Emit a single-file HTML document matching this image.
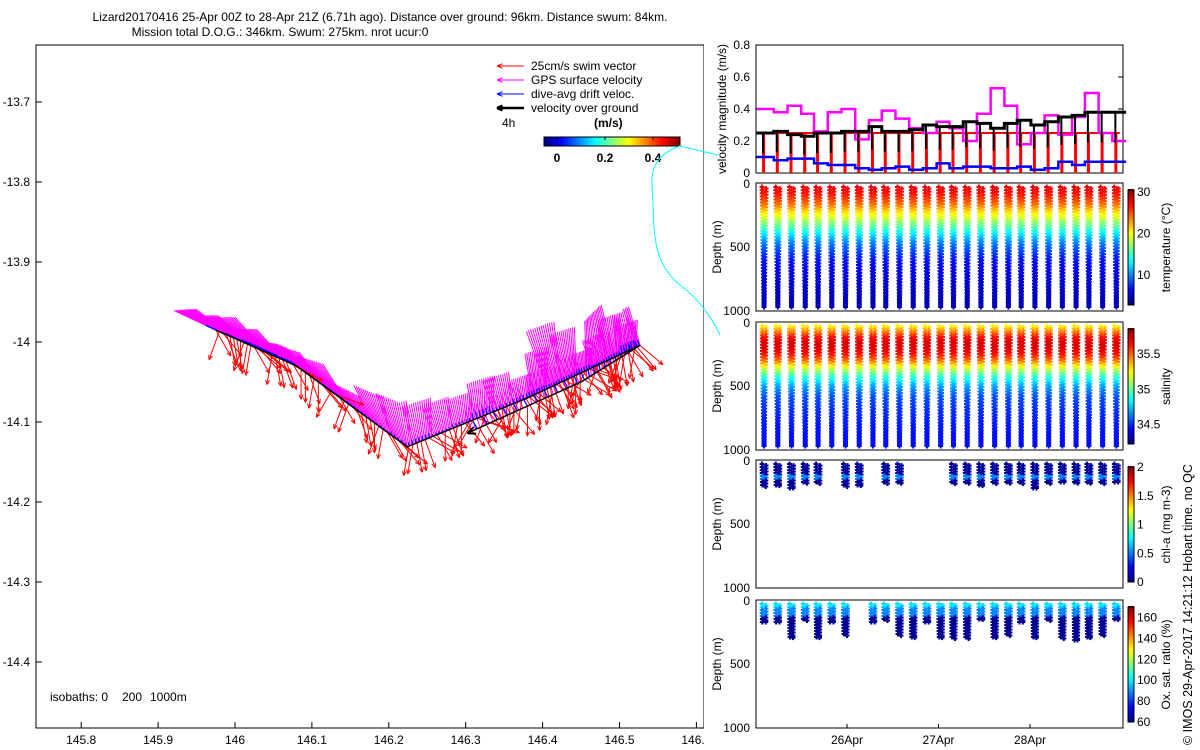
<!DOCTYPE html>
<html><head><meta charset="utf-8"><style>
html,body{margin:0;padding:0;background:#fff}
svg{display:block;font-family:"Liberation Sans",sans-serif;font-size:12px}
</style></head><body>
<svg id="fig" width="1200" height="750" viewBox="0 0 1200 750" xmlns="http://www.w3.org/2000/svg">
<rect width="1200" height="750" fill="#fff"/>
<g id="title">
<text x="380" y="21" text-anchor="middle">Lizard20170416 25-Apr 00Z to 28-Apr 21Z (6.71h ago). Distance over ground: 96km. Distance swum: 84km.</text>
<text x="280" y="36" text-anchor="middle">Mission total D.O.G.: 346km. Swum: 275km. nrot ucur:0</text>
</g>
<g id="map"></g>
<rect x="704" y="40" width="496" height="710" fill="#fff"/>
<path d="M718,155 L680,146 C662,152 650,165 652,185 C655,230 650,260 680,285 C700,300 712,318 720,335" fill="none" stroke="#0ff" stroke-width="1"/>
<g id="panels"></g>
<text transform="translate(1192,745) rotate(-90)" font-size="12.5">© IMOS 29-Apr-2017 14:21:12 Hobart time. no QC</text>
</svg>
<script>
// ---------- data ----------
const mapLonTicks=[145.8,145.9,146,146.1,146.2,146.3,146.4,146.5,146.6];
const mapLatTicks=[-13.7,-13.8,-13.9,-14,-14.1,-14.2,-14.3,-14.4];
const trackLon=[145.975,146.08,146.224,146.38,146.527,146.45,146.302];
const trackLat=[-13.985,-14.03,-14.131,-14.07,-14.004,-14.05,-14.114];
const trackT=[0,0.17,0.36,0.58,0.86,0.93,1.0];
const diveTimes=[0.05,0.20,0.35,0.50,0.64,0.79,0.94,1.09,1.24,1.38,1.53,1.68,1.83,1.98,2.12,2.27,2.42,2.57,2.72,2.86,3.01,3.16,3.31,3.46,3.60,3.75,3.90];
const gpsSpeed=[0.40,0.38,0.42,0.37,0.26,0.38,0.40,0.21,0.33,0.39,0.34,0.28,0.25,0.32,0.28,0.20,0.37,0.53,0.42,0.18,0.25,0.36,0.24,0.35,0.50,0.25,0.20];
const vogSpeed=[0.25,0.26,0.24,0.23,0.25,0.25,0.26,0.26,0.29,0.26,0.26,0.27,0.30,0.29,0.29,0.32,0.31,0.28,0.31,0.33,0.30,0.32,0.35,0.36,0.38,0.38,0.38];
const driftSpeed=[0.10,0.08,0.09,0.09,0.06,0.05,0.05,0.03,0.02,0.03,0.04,0.02,0.03,0.06,0.03,0.04,0.04,0.03,0.03,0.04,0.02,0.03,0.07,0.05,0.07,0.07,0.07];
const swimSpeed=[0.25];
const gpsDir=[155,150,145,145,140,140,135,125,115,110,105,110,105,100,110,105,100,110,105,100,110,105,100,110,105,115,120];
const swimDir=[-60,-80,-100,-40,-70,-90,-50,-110,-80,-60,-100,-30,-70,-120,-50,-90,-40,-80,-60,-100,-20,-70,-110,-50,-80,-30,-90];
const depthLevels=[0,50,100,150,200,250,300,350,400,450,500,600,700,800,900,1000];
const tempProfile=[27.5,27,25.5,24,21.5,19.5,17,15,12.5,10.5,9,7,5.8,5,4.6,4.3];
const salProfile=[35.25,35.45,35.65,35.72,35.7,35.6,35.45,35.2,35.0,34.85,34.7,34.55,34.5,34.47,34.45,34.44];
const chlMaxDepth=[190,180,200,160,170,0,190,180,0,170,160,0,0,0,170,160,180,170,160,170,200,170,150,160,160,170,150];
const oxMaxDepth=[150,150,280,140,280,150,270,0,150,140,270,280,150,280,290,290,130,280,270,150,280,140,290,300,280,270,130];
const dateLabels=["26Apr","27Apr","28Apr"];
const dateDays=[1,2,3];

// ---------- helpers ----------
const NS="http://www.w3.org/2000/svg";
function mk(parent,tag,attrs,text){const e=document.createElementNS(NS,tag);for(const k in attrs)e.setAttribute(k,attrs[k]);if(text!==undefined)e.textContent=text;parent.appendChild(e);return e;}
function jet(v){v=Math.max(0,Math.min(1,v));const c=x=>Math.round(255*Math.max(0,Math.min(1,1.5-Math.abs(x))));return `rgb(${c(4*v-3)},${c(4*v-2)},${c(4*v-1)})`;}
function interp(xs,ys,x){if(x<=xs[0])return ys[0];for(let i=1;i<xs.length;i++){if(x<=xs[i]){const f=(x-xs[i-1])/(xs[i]-xs[i-1]);return ys[i-1]+f*(ys[i]-ys[i-1]);}}return ys[ys.length-1];}

// ---------- map ----------
const map=document.getElementById('map');
const mx=lon=>235+(lon-146)*769, my=lat=>342-(lat+14)*800;
mk(map,'rect',{x:36,y:45,width:668,height:683,fill:'none',stroke:'#000','stroke-width':1});
mapLonTicks.forEach(v=>{const x=mx(v);const t=mk(map,'line',{x1:x,y1:728,x2:x,y2:722,stroke:'#000'});
 const l=mk(map,'text',{x:x,y:744,'text-anchor':'middle'},String(v));});
mapLatTicks.forEach(v=>{const y=my(v);mk(map,'line',{x1:36,y1:y,x2:42,y2:y,stroke:'#000'});
 const l=mk(map,'text',{x:30,y:y+4,'text-anchor':'end'},String(v));});
const iso=mk(map,'g',{});
mk(iso,'text',{x:50,y:701},'isobaths: 0');mk(iso,'text',{x:122,y:701},'200');mk(iso,'text',{x:150,y:701},'1000m');
function arrow(g,x,y,ang,len,col,w,head){const r=ang*Math.PI/180;const x2=x+len*Math.cos(r),y2=y-len*Math.sin(r);
 mk(g,'line',{x1:x,y1:y,x2:x2,y2:y2,stroke:col,'stroke-width':w});
 if(head){for(const s of[-1,1]){const a=r+Math.PI+s*0.4;mk(g,'line',{x1:x2,y1:y2,x2:x2+head*Math.cos(a),y2:y2-head*Math.sin(a),stroke:col,'stroke-width':w});}}}
const vecG=mk(map,'g',{});
const vscale=115;
for(let i=0;i<diveTimes.length;i++){
 for(let k=0;k<14;k++){
  const t=(i+k/14)/diveTimes.length;
  const x=mx(interp(trackT,trackLon,t)),y=my(interp(trackT,trackLat,t));
  arrow(vecG,x,y,gpsDir[i]-k,gpsSpeed[i]*vscale,'#f0f',1,0);
 }
}
for(let i=0;i<diveTimes.length;i++){
 for(let k=0;k<5;k++){
  const t=(i+k/5)/diveTimes.length;
  const x=mx(interp(trackT,trackLon,t)),y=my(interp(trackT,trackLat,t));
  arrow(vecG,x,y,swimDir[(i+k*7)%swimDir.length],swimSpeed[0]*120,'#f00',1,5);
 }
}
for(let i=0;i<diveTimes.length;i++){for(let k=0;k<6;k++){const t=(i+k/6)/diveTimes.length;
 const x=mx(interp(trackT,trackLon,t)),y=my(interp(trackT,trackLat,t));arrow(vecG,x,y,gpsDir[i],driftSpeed[i]*vscale,'#00f',1.2,0);}}
const trk=mk(map,'polyline',{points:trackLon.map((v,i)=>mx(v)+','+my(trackLat[i])).join(' '),fill:'none',stroke:'#000','stroke-width':1.5});

arrow(map,mx(trackLon[6]),my(trackLat[6]),200,0,'#000',2,9);
// legend
const lg=mk(map,'g',{});
[['#f00','25cm/s swim vector',1],['#f0f','GPS surface velocity',1],['#00f','dive-avg drift veloc.',1],['#000','velocity over ground',2.5]].forEach((d,i)=>{
 const y=66+i*14;arrow(lg,524,y,180,27,d[0],d[2],6);mk(lg,'text',{x:531,y:y+4},d[1]);});
mk(lg,'text',{x:502,y:127},'4h');mk(lg,'text',{x:594,y:127,'font-weight':'bold'},'(m/s)');
for(let i=0;i<136;i++)mk(lg,'rect',{x:544+i,y:137,width:1.2,height:9,fill:jet(i/135)});
mk(lg,'rect',{x:544,y:137,width:136,height:9,fill:'none',stroke:'#000'});
[[0,557],[0.2,605],[0.4,653]].forEach(d=>{mk(lg,'text',{x:d[1],y:162,'text-anchor':'middle','font-weight':'bold'},String(d[0]));mk(lg,'line',{x1:d[1],y1:137,x2:d[1],y2:140,stroke:'#000'});});

// ---------- right panels ----------
const P=document.getElementById('panels');
const X0=756,X1=1123,tx=d=>755.5+d*91.5;
function box(y0,y1){mk(P,'rect',{x:X0,y:y0,width:X1-X0,height:y1-y0,fill:'none',stroke:'#000'});}
function ylab(txt,y0,y1,x){mk(P,'text',{transform:`translate(${x},${(y0+y1)/2}) rotate(-90)`,'text-anchor':'middle'},txt);}
const vy=v=>173-v*160;
box(45,173);
[0,0.2,0.4,0.6,0.8].forEach(v=>{mk(P,'text',{x:750,y:vy(v)+4,'text-anchor':'end'},String(v));mk(P,'line',{x1:X1,y1:vy(v),x2:X1-5,y2:vy(v),stroke:'#000'});});
ylab('velocity magnitude (m/s)',45,173,726);
function stepLine(arr,col,w,name){let pts=[];for(let i=0;i<arr.length;i++){const a=tx(diveTimes[i]-(i==0?0.04:0)),b=tx(i+1<arr.length?diveTimes[i+1]:diveTimes[i]+0.15);pts.push(a+','+vy(arr[i]),b+','+vy(arr[i]));}
 const p=mk(P,'polyline',{points:pts.join(' '),fill:'none',stroke:col,'stroke-width':w});}
const rg=mk(P,'g',{});
mk(rg,'line',{x1:X0,y1:vy(swimSpeed[0]),x2:tx(3.98),y2:vy(swimSpeed[0]),stroke:'#f00','stroke-width':2});
diveTimes.forEach(d=>{mk(rg,'rect',{x:tx(d)+2,y:vy(swimSpeed[0]),width:3,height:vy(0)-vy(swimSpeed[0]),fill:'#f00'});});
stepLine(gpsSpeed,'#f0f',2.5,'gps-speed-series');
stepLine(vogSpeed,'#000',3,'ground-speed-series');
diveTimes.forEach((d,i)=>{mk(P,'line',{x1:tx(d)+3,y1:vy(vogSpeed[i]),x2:tx(d)+3,y2:vy(vogSpeed[i]*0.5),stroke:'#000','stroke-width':2});});
stepLine(driftSpeed,'#00f',2.5,'drift-speed-series');

function plus(g,x,y,c){mk(g,'rect',{x:x-2.5,y:y-1,width:5,height:2,fill:c});mk(g,'rect',{x:x-1,y:y-2.5,width:2,height:5,fill:c});}
function profilePanel(y0,y1,valueAt,vmin,vmax,cbTicks,label,maxDepthArr,name){
 const dy=d=>y0+4+d/1000*(y1-y0-8);
 const g=mk(P,'g',{});
 diveTimes.forEach((t,i)=>{const md=maxDepthArr?maxDepthArr[i]:1000;if(md<=0)return;
  const x0=tx(t)+2;const step=maxDepthArr?25:26;
  for(let d=0;d<=md;d+=step){
   plus(g,x0+2*d/1000,dy(d),jet((valueAt(d,i)-vmin)/(vmax-vmin)));
   const d2=Math.min(md,d+13);
   plus(g,x0+4-2*d2/1000,dy(d2),jet((valueAt(d2,i)-vmin)/(vmax-vmin)));
  }});
 box(y0,y1);
 [[0,y0],[500,(y0+y1)/2],[1000,y1]].forEach(d=>mk(P,'text',{x:750,y:d[1]+(d[0]==0?5:4),'text-anchor':'end'},String(d[0])));
 ylab('Depth (m)',y0,y1,721);
 const cy0=y0+7,cy1=y1-6;
 for(let i=0;i<=cy1-cy0;i++)mk(P,'rect',{x:1128,y:cy1-i-1,width:6,height:1.2,fill:jet(i/(cy1-cy0))});
 mk(P,'rect',{x:1128,y:cy0,width:6,height:cy1-cy0,fill:'none',stroke:'#000'});
 cbTicks.forEach(v=>{const y=cy1-(v-vmin)/(vmax-vmin)*(cy1-cy0);mk(P,'text',{x:1137,y:y+4},String(v));});
 ylab(label,cy0,cy1,1170);
}
profilePanel(183,311,d=>interp(depthLevels,tempProfile,d),2.8,30.5,[10,20,30],'temperature (°C)',null,'temperature-panel');
profilePanel(322,450,d=>interp(depthLevels,salProfile,d),34.22,35.86,[34.5,35,35.5],'salinity',null,'salinity-panel');
profilePanel(460,588,d=>(d>90&&d<130)?0.5:0.05,0,2,[0,0.5,1,1.5,2],'chl-a (mg m-3)',chlMaxDepth,'chla-panel');
profilePanel(600,728,d=>d<30?98:(d<110?88:62),60,170,[60,80,100,120,140,160],'Ox. sat. ratio (%)',oxMaxDepth,'oxygen-panel');
dateDays.forEach((d,i)=>{const x=tx(d);mk(P,'line',{x1:x,y1:728,x2:x,y2:724,stroke:'#000'});
 const l=mk(P,'text',{x:x,y:744,'text-anchor':'middle'},dateLabels[i]);});
</script>
</body></html>
